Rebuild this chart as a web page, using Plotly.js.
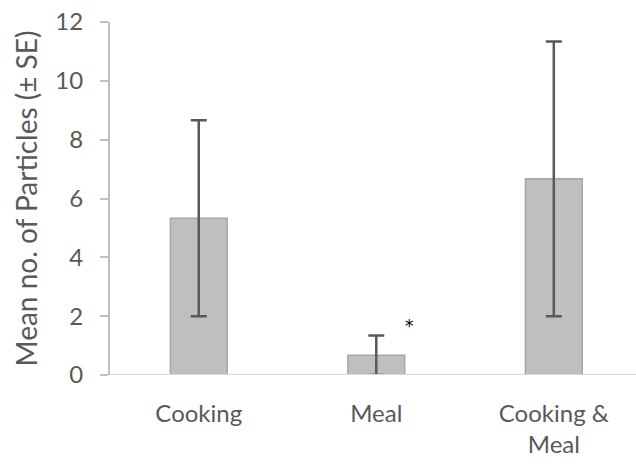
<!DOCTYPE html>
<html><head><meta charset="utf-8">
<script src="https://cdn.plot.ly/plotly-3.0.1.min.js"></script>
<style>html,body{margin:0;padding:0;background:#fff}#c{width:636px;height:467px}</style>
</head><body><div id="c"></div>
<script>
const categories = ["Cooking", "Meal", "Cooking &<br>Meal"];
const means = [5.33, 0.67, 6.67];
const se = [3.33, 0.67, 4.67];
const yTicks = [0, 2, 4, 6, 8, 10, 12];
const sigMark = {category: 1, label: "*", y: 1.8};

const trace = {
  type: "bar",
  x: [0, 1, 2],
  y: means,
  width: 0.32,
  marker: {color: "#bfbfbf", line: {color: "#a6a6a6", width: 1.5}},
  error_y: {type: "data", array: se, visible: true, color: "#595959", thickness: 2.5, width: 8},
  hoverinfo: "none"
};

const layout = {
  width: 636, height: 467,
  margin: {l: 110, r: 0, t: 22, b: 92},
  paper_bgcolor: "#fff", plot_bgcolor: "#fff",
  showlegend: false,
  font: {family: "Lato, Open Sans, sans-serif", color: "#595959"},
  xaxis: {
    range: [-0.5, 2.463],
    tickvals: [0, 1, 2], ticktext: categories,
    showgrid: false, zeroline: false,
    showline: false, ticks: "",
    ticklabelstandoff: 22,
    tickfont: {size: 24, color: "#595959"}
  },
  yaxis: {
    range: [0, 12], tickvals: yTicks,
    showgrid: false, zeroline: false,
    showline: true, linecolor: "#bfbfbf", linewidth: 2,
    ticks: "outside", ticklen: 8, tickcolor: "#bfbfbf", tickwidth: 2,
    ticklabelstandoff: 12,
    tickfont: {size: 24, color: "#595959"},
    title: {text: "Mean no. of Particles (± SE)", font: {size: 28, color: "#595959"}, standoff: 10}
  },
  shapes: [{type: "line", xref: "paper", yref: "y", x0: 0, x1: 1, y0: 0, y1: 0, line: {color: "#d9d9d9", width: 2}}],
  annotations: [{x: sigMark.category + 0.186, y: sigMark.y, xref: "x", yref: "y", yshift: -4, text: sigMark.label, showarrow: false, font: {family: "DejaVu Sans", size: 17, color: "#000"}}]
};

Plotly.newPlot("c", [trace], layout, {displayModeBar: false, staticPlot: true});
</script></body></html>
